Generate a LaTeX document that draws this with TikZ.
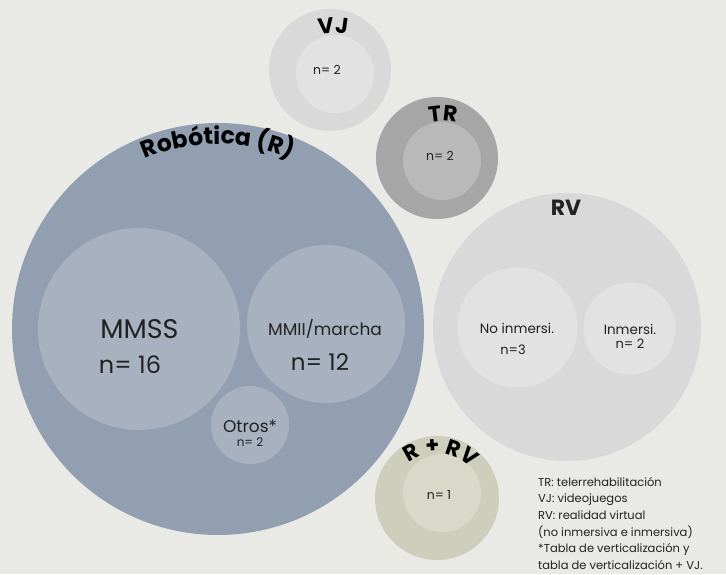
\documentclass[tikz,border=0pt]{standalone}
\usepackage{fontspec}
\setmainfont{Poppins}
\usepackage{tikz}
\usetikzlibrary{calc,decorations.text}
\definecolor{paper}{HTML}{E9EAE5}
\definecolor{robo}{HTML}{919FB1}
\definecolor{roboin}{HTML}{A7B1BF}
\definecolor{pale}{HTML}{D9D9D9}
\definecolor{palein}{HTML}{E2E2E2}
\definecolor{mid}{HTML}{A6A6A6}
\definecolor{midin}{HTML}{B9B9B9}
\definecolor{sage}{HTML}{CDCEBB}
\definecolor{sagein}{HTML}{D8D9C8}
\definecolor{ink}{HTML}{222222}
\newcommand{\bubbletitle}[1]{\bfseries\fontsize{#1}{#1}\selectfont}

\begin{document}
\begin{tikzpicture}[x=1pt, y=1pt, every node/.style={text=ink, inner sep=0pt},
bubble/.style={circle, draw=none, inner sep=0pt, minimum size=#1},
lbl/.style={font=\fontsize{#1}{#1}\selectfont},
curved/.style={decorate, decoration={text along path, text align=center, text color=black, text={#1}}}]
\fill[paper] (0,0) rectangle (726,574);
\useasboundingbox (0,0) rectangle (726,574);
\node[bubble=412pt, fill=robo] (rob) at (218,245) {};
\node[bubble=202pt, fill=roboin] (mmss) at (139,245) {};
\node[bubble=158pt, fill=roboin] (mmii) at (326,250) {};
\node[bubble=78pt, fill=roboin] (otros) at (250,149) {};
\node[bubble=122pt, fill=pale] (vj) at (330,504) {};
\node[bubble=78pt, fill=palein] (vjin) at (335,500) {};
\node[bubble=122pt, fill=mid] (tr) at (437,416) {};
\node[bubble=78pt, fill=midin] (trin) at (442,413) {};
\node[bubble=268pt, fill=pale] (rv) at (567,247) {};
\node[bubble=120pt, fill=palein] (noinm) at (517.5,246.5) {};
\node[bubble=92pt, fill=palein] (inm) at (629.5,245.5) {};
\node[bubble=124pt, fill=sage] (rrv) at (437,76) {};
\node[bubble=78pt, fill=sagein] (rrvin) at (442,81) {};
\path[curved={|\bubbletitle{23.5}|Robótica (R)}] ($(rob.center)+(130:185)$) arc[start angle=130, end angle=50, radius=185];
\path[curved={|\bubbletitle{22}|VJ}] ($(vj.center)+(3,-23)+(120:60)$) arc[start angle=120, end angle=60, radius=60];
\path[curved={|\bubbletitle{22}|TR}] ($(tr.center)+(6,-23)+(120:60)$) arc[start angle=120, end angle=60, radius=60];
\path[curved={|\bubbletitle{22}|R + RV}] ($(rrv.center)+(150:45)$) arc[start angle=150, end angle=20, radius=45];
\node[font=\bubbletitle{22}] (rvt) at (566,366) {RV};
\node[lbl=27] (mmsst) at (139.5,245) {MMSS};
\node[lbl=24] (mmssn) at (130,209) {n= 16};
\node[lbl=17] (mmiit) at (325,245) {MMII/marcha};
\node[lbl=23] (mmiin) at (320,212) {n= 12};
\node[lbl=17] (otrost) at (250,148) {Otros*};
\node[lbl=12] (otrosn) at (250,132) {n= 2};
\node[lbl=12.5] (vjn) at (327,504) {n= 2};
\node[lbl=12.5] (trn) at (440,418) {n= 2};
\node[lbl=12.5] (rrvn) at (439,79) {n= 1};
\node[lbl=13.5] (noinmt) at (517,246) {No inmersi.};
\node[lbl=13] (noinmn) at (513,224) {n=3};
\node[lbl=13.5] (inmt) at (630,245) {Inmersi.};
\node[lbl=13] (inmn) at (630,230) {n= 2};
\node[font=\fontsize{11.5}{16.6}\selectfont, align=left, anchor=north west] (legend) at (538,97) {TR: telerrehabilitación\\VJ: videojuegos\\RV: realidad virtual\\(no inmersiva e inmersiva)\\*Tabla de verticalización y\\tabla de verticalización + VJ.};
\end{tikzpicture}
\end{document}
